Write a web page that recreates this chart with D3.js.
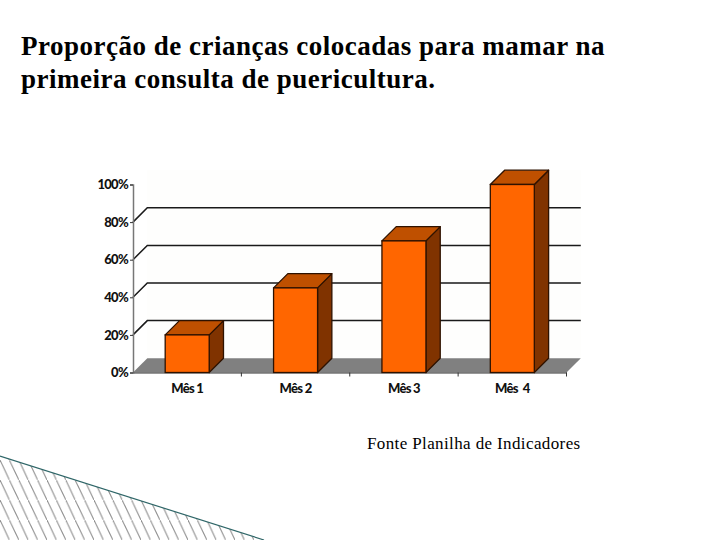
<!DOCTYPE html>
<html>
<head>
<meta charset="utf-8">
<title>Proporção de crianças</title>
<script src="https://d3js.org/d3.v7.min.js"></script>
<style>
    body { margin: 0; background: #fff; overflow: hidden; }
    svg { display: block; }
    .title { font-family: "Liberation Serif", serif; font-weight: bold; font-size: 27px; letter-spacing: 0.5px; fill: #000; }
    .fonte { font-family: "Liberation Serif", serif; font-size: 17px; letter-spacing: 0.38px; fill: #000; }
    .axis text { font-family: "Lato", sans-serif; font-weight: 900; font-size: 13px; letter-spacing: -0.7px; fill: #111; white-space: pre; }
</style>
</head>
<body>
<svg width="720" height="540"></svg>
<script>
const titleLines = ["Proporção de crianças colocadas para mamar na", "primeira consulta de puericultura."]
const source = "Fonte Planilha de Indicadores"
const months = ["Mês 1", "Mês 2", "Mês 3", "Mês  4"]
const values = [20, 45, 70, 100]
const yTicks = [0, 20, 40, 60, 80, 100]

const svg = d3.select("svg")

// decorative hatched corner
const defs = svg.append("defs")
const hatch = defs.append("pattern").attr("id", "hatch")
    .attr("patternUnits", "userSpaceOnUse")
    .attr("width", 9.4).attr("height", 20)
hatch.append("line").attr("x1", 0).attr("y1", 0).attr("x2", 9.4).attr("y2", 20)
    .attr("stroke", "#8c8c8c").attr("stroke-width", 1)
svg.append("path").attr("d", "M0,456L264,540L0,540Z").attr("fill", "url(#hatch)")
svg.append("line").attr("x1", 0).attr("y1", 456).attr("x2", 264).attr("y2", 540)
    .attr("stroke", "#2f6668").attr("stroke-width", 1.2)

svg.selectAll("text.title").data(titleLines).enter().append("text")
    .attr("class", "title")
    .attr("x", 21)
    .attr("y", (d, i) => 55 + i * 33)
    .text(d => d)

svg.append("text").attr("class", "fonte")
    .attr("x", 367).attr("y", 449)
    .text(source)

// chart
const depth = 14.3
const xScale = d3.scaleBand().domain(months).range([133, 566.5]).paddingInner(0.594).paddingOuter(0.297)
const band = d3.scaleBand().domain(months).range([133, 566.5])
const yScale = d3.scaleLinear().domain([0, 100]).range([372.5, 184.5])

// back wall
svg.append("rect")
    .attr("x", 133 + depth).attr("y", yScale(100) - depth)
    .attr("width", 433.5).attr("height", 188)
    .attr("fill", "#fefefd")

// grid lines, with the slanted part on the side wall
yTicks.filter(d => d > 0 && d < 100).forEach(d => {
    svg.append("path")
        .attr("d", `M133,${yScale(d)}L${133 + depth},${yScale(d) - depth}L${566.5 + depth},${yScale(d) - depth}`)
        .attr("fill", "none")
        .attr("stroke", "#1a1a1a")
        .attr("stroke-width", 1.5)
})

// floor
svg.append("path")
    .attr("d", `M133,${yScale(0)}L${133 + depth},${yScale(0) - depth}L${566.5 + depth},${yScale(0) - depth}L566.5,${yScale(0)}Z`)
    .attr("fill", "#808080")

// axes
const yAxis = d3.axisLeft(yScale).tickValues(yTicks).tickFormat(d => d + "%").tickSize(3).tickPadding(2)
const yGroup = svg.append("g").attr("class", "axis").attr("transform", "translate(133,0)").call(yAxis)
yGroup.select(".domain").attr("stroke", "#777").attr("stroke-width", 1.5)
yGroup.selectAll(".tick line").attr("stroke", "#333")

const xAxis = d3.axisBottom(band).tickSize(0).tickPadding(11)
const xGroup = svg.append("g").attr("class", "axis").attr("transform", `translate(0,${yScale(0)})`).call(xAxis)
xGroup.select(".domain").attr("stroke", "#333").attr("stroke-width", 1.2)
xGroup.selectAll("line.sep").data(months).enter().append("line")
    .attr("class", "sep")
    .attr("x1", d => band(d) + band.bandwidth()).attr("x2", d => band(d) + band.bandwidth())
    .attr("y1", 0).attr("y2", 4)
    .attr("stroke", "#333")

// 3d bars
const bars = svg.selectAll("g.bar").data(values).enter().append("g").attr("class", "bar")
const barX = (d, i) => xScale(months[i])
const bw = xScale.bandwidth()
const edge = "#2e1200"

bars.append("path")
    .attr("d", (d, i) => {
        const x = barX(d, i) + bw, y = yScale(d)
        return `M${x},${y}L${x + depth},${y - depth}L${x + depth},${yScale(0) - depth}L${x},${yScale(0)}Z`
    })
    .attr("fill", "#803300").attr("stroke", edge).attr("stroke-width", 1.3).attr("stroke-linejoin", "round")

bars.append("path")
    .attr("d", (d, i) => {
        const x = barX(d, i), y = yScale(d)
        return `M${x},${y}L${x + depth},${y - depth}L${x + bw + depth},${y - depth}L${x + bw},${y}Z`
    })
    .attr("fill", "#bf5000").attr("stroke", edge).attr("stroke-width", 1.3).attr("stroke-linejoin", "round")

bars.append("rect")
    .attr("x", barX)
    .attr("y", d => yScale(d))
    .attr("width", bw)
    .attr("height", d => yScale(0) - yScale(d))
    .attr("fill", "#ff6600").attr("stroke", edge).attr("stroke-width", 1.3)
</script>
</body>
</html>
